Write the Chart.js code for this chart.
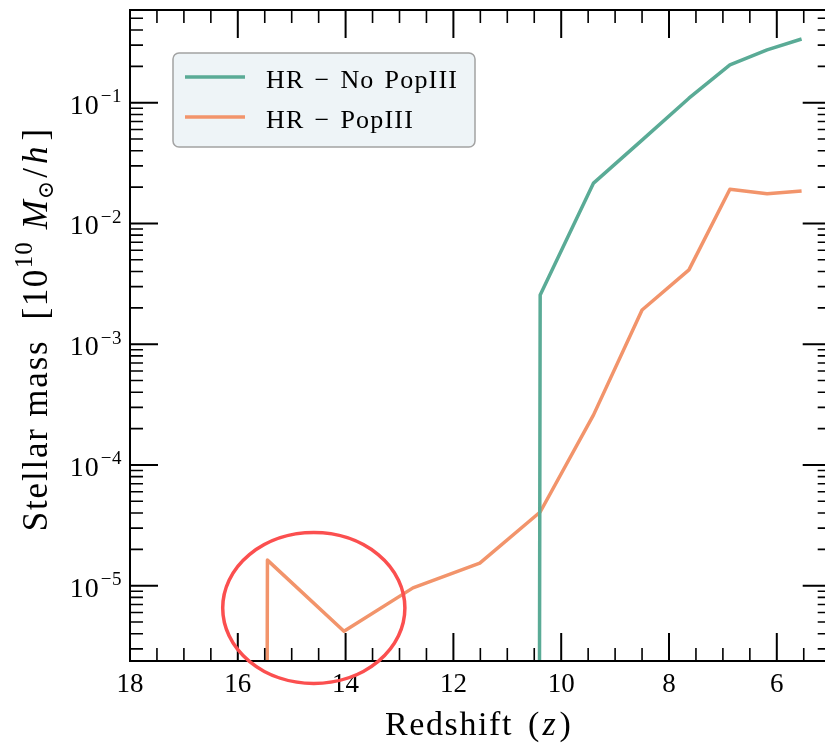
<!DOCTYPE html>
<html>
<head>
<meta charset="utf-8">
<script src="https://cdn.jsdelivr.net/npm/chart.js@4/dist/chart.umd.min.js"></script>
<style>
  html, body { margin: 0; padding: 0; background: #ffffff; overflow: hidden; }
  #wrap { position: absolute; left: 0; top: 0; width: 840px; height: 743px; }
</style>
</head>
<body>
<div id="wrap"><canvas id="c" width="840" height="743"></canvas></div>
<script>
// Snapshot redshifts and stellar masses (units of 1e10 Msun/h); 0 = no stars formed yet
const redshift   = [17.0, 15.45, 14.03, 12.75, 11.51, 10.39, 9.40, 8.50, 7.63, 6.87, 6.18, 5.54];
const massNoPop3 = [0, 0, 0, 0, 0, 2.56e-3, 0.0216, 0.049, 0.109, 0.206, 0.274, 0.337];
const massPop3   = [0, 1.63e-5, 4.2e-6, 9.6e-6, 1.54e-5, 4.08e-5, 2.6e-4, 1.92e-3, 4.13e-3, 0.0192, 0.0176, 0.0186];
const seriesLabels = ['HR \u2212 No PopIII', 'HR \u2212 PopIII'];
const seriesColors = ['#5aab96', '#f2946b'];
const xTickLabels = [18, 16, 14, 12, 10, 8, 6];
const yTickExponents = [-1, -2, -3, -4, -5];
// region circled around the first Pop III burst (redshift span, mass span)
const highlightZ = [16.28, 12.90];
const highlightM = [2.76e-5, 1.55e-6];

const SERIF = '"Liberation Serif", "DejaVu Serif", serif';

// A log axis cannot place zero: push such points far below the floor so the
// segment to the first non-zero value drops straight down.
const toPoints = vals => vals.map((v, i) => ({ x: redshift[i], y: v > 0 ? v : 1e-300 }));

function font(size, italic) { return (italic ? 'italic ' : '') + size + 'px ' + SERIF; }

// draw a row of text runs (mixed fonts, raised/lowered pieces)
function drawRuns(ctx, runs, x, y, align) {
  let total = 0;
  const widths = runs.map(r => {
    ctx.font = r.font;
    ctx.letterSpacing = (r.ls || 0) + 'px';
    const w = (r.text ? ctx.measureText(r.text).width : 0) + (r.gap || 0);
    total += w;
    return w;
  });
  let cx = align === 'center' ? x - total / 2 : align === 'right' ? x - total : x;
  ctx.textAlign = 'left';
  ctx.textBaseline = 'alphabetic';
  runs.forEach((r, i) => {
    if (r.text) {
      ctx.font = r.font;
      ctx.letterSpacing = (r.ls || 0) + 'px';
      ctx.fillText(r.text, cx + (r.gap || 0), y + (r.dy || 0));
    }
    cx += widths[i];
  });
  ctx.letterSpacing = '0px';
}

const frame = {
  id: 'frame',
  afterDraw(chart) {
    const ctx = chart.ctx;
    const a = chart.chartArea;
    const xs = chart.scales.x, ys = chart.scales.y;
    ctx.save();
    ctx.fillStyle = '#000';
    ctx.strokeStyle = '#000';

    // inward ticks on all four sides
    const MAJ = 28, MIN = 13;
    const tickX = (v, len, w) => {
      const px = xs.getPixelForValue(v);
      ctx.lineWidth = w;
      ctx.beginPath();
      ctx.moveTo(px, a.bottom); ctx.lineTo(px, a.bottom - len);
      ctx.moveTo(px, a.top); ctx.lineTo(px, a.top + len);
      ctx.stroke();
    };
    const tickY = (v, len, w) => {
      const py = ys.getPixelForValue(v);
      ctx.lineWidth = w;
      ctx.beginPath();
      ctx.moveTo(a.left, py); ctx.lineTo(a.left + len, py);
      ctx.moveTo(a.right, py); ctx.lineTo(a.right - len, py);
      ctx.stroke();
    };
    for (let z = 5; z <= 18.001; z += 0.5) {
      const major = xTickLabels.includes(Math.round(z * 10) / 10);
      tickX(z, major ? MAJ : MIN, major ? 2 : 1.6);
    }
    for (let d = -7; d <= 0; d++) {
      for (let m = 1; m <= 9; m++) {
        const v = m * Math.pow(10, d);
        if (v < ys.min || v > ys.max) continue;
        tickY(v, m === 1 ? MAJ : MIN, m === 1 ? 2 : 1.6);
      }
    }

    // spines
    ctx.lineWidth = 2;
    ctx.strokeRect(a.left, a.top, a.right - a.left, a.bottom - a.top);

    // x tick labels
    ctx.textAlign = 'center';
    ctx.textBaseline = 'alphabetic';
    ctx.font = font(27);
    xTickLabels.forEach(z => ctx.fillText(String(z), xs.getPixelForValue(z), 692));

    // y tick labels 10^k
    yTickExponents.forEach(k => {
      const py = ys.getPixelForValue(Math.pow(10, k));
      drawRuns(ctx, [
        { text: '10', font: font(28), ls: 1, dy: 11 },
        { text: '\u2212' + Math.abs(k), font: font(19), ls: 0.5, dy: -0.5, gap: 1 }
      ], 122, py, 'right');
    });

    // axis titles
    drawRuns(ctx, [
      { text: 'Redshift', font: font(34), ls: 1.6 },
      { text: '(', font: font(34), gap: 15 },
      { text: 'z', font: font(34, true), gap: 3 },
      { text: ')', font: font(34), gap: 4 }
    ], 478, 735, 'center');

    ctx.save();
    ctx.translate(47, 330);
    ctx.rotate(-Math.PI / 2);
    drawRuns(ctx, [
      { text: 'Stellar mass', font: font(35), ls: 1.8 },
      { text: '[10', font: font(35), ls: 1.5, gap: 20 },
      { text: '10', font: font(25), ls: 1, dy: -15 },
      { text: 'M', font: font(35, true), gap: 12 },
      { text: '\u2299', font: font(22), dy: 6, gap: 1 },
      { text: '/', font: font(35), gap: 3 },
      { text: 'h', font: font(35, true), gap: 4 },
      { text: ']', font: font(35), gap: 6 }
    ], 0, 0, 'center');
    ctx.restore();

    // legend box
    const lx = 173, ly = 53, lw = 302, lh = 94, r = 6;
    ctx.beginPath();
    ctx.roundRect(lx, ly, lw, lh, r);
    ctx.fillStyle = '#eef4f7';
    ctx.fill();
    ctx.lineWidth = 1.5;
    ctx.strokeStyle = '#a3a3a3';
    ctx.stroke();
    chart.data.datasets.forEach((ds, i) => {
      const yy = 77 + i * 40;
      ctx.strokeStyle = ds.borderColor;
      ctx.lineWidth = 3.5;
      ctx.beginPath();
      ctx.moveTo(185, yy); ctx.lineTo(245, yy);
      ctx.stroke();
      ctx.fillStyle = '#000';
      const words = ds.label.split(' ');
      let cx = 266;
      words.forEach(w => {
        ctx.font = font(26);
        ctx.letterSpacing = '1.2px';
        ctx.textAlign = 'left';
        ctx.fillText(w, cx, yy + 11);
        cx += ctx.measureText(w).width + 10;
      });
      ctx.letterSpacing = '0px';
    });

    // highlight ellipse around the first Pop III burst
    const ex0 = xs.getPixelForValue(highlightZ[0]), ex1 = xs.getPixelForValue(highlightZ[1]);
    const ey0 = ys.getPixelForValue(highlightM[0]), ey1 = ys.getPixelForValue(highlightM[1]);
    ctx.beginPath();
    ctx.ellipse((ex0 + ex1) / 2, (ey0 + ey1) / 2, Math.abs(ex1 - ex0) / 2, Math.abs(ey1 - ey0) / 2, 0, 0, Math.PI * 2);
    ctx.strokeStyle = '#fb4f4f';
    ctx.lineWidth = 3.5;
    ctx.stroke();

    ctx.restore();
  }
};

new Chart(document.getElementById('c'), {
  type: 'line',
  data: {
    datasets: [
      { label: seriesLabels[0], data: toPoints(massNoPop3), borderColor: seriesColors[0] },
      { label: seriesLabels[1], data: toPoints(massPop3), borderColor: seriesColors[1] }
    ]
  },
  options: {
    responsive: false,
    animation: false,
    devicePixelRatio: 1,
    layout: { padding: { left: 130, top: 10, right: 9.3, bottom: 82 } },
    elements: {
      line: { borderWidth: 3.5, tension: 0, borderJoinStyle: 'round', fill: false },
      point: { radius: 0, hoverRadius: 0 }
    },
    datasets: { line: { clip: 0 } },
    scales: {
      x: { type: 'linear', reverse: true, min: 5, max: 18, display: false },
      y: { type: 'logarithmic', min: 2.38e-6, max: 0.586, display: false }
    },
    plugins: { legend: { display: false }, tooltip: { enabled: false } }
  },
  plugins: [frame]
});
</script>
</body>
</html>
